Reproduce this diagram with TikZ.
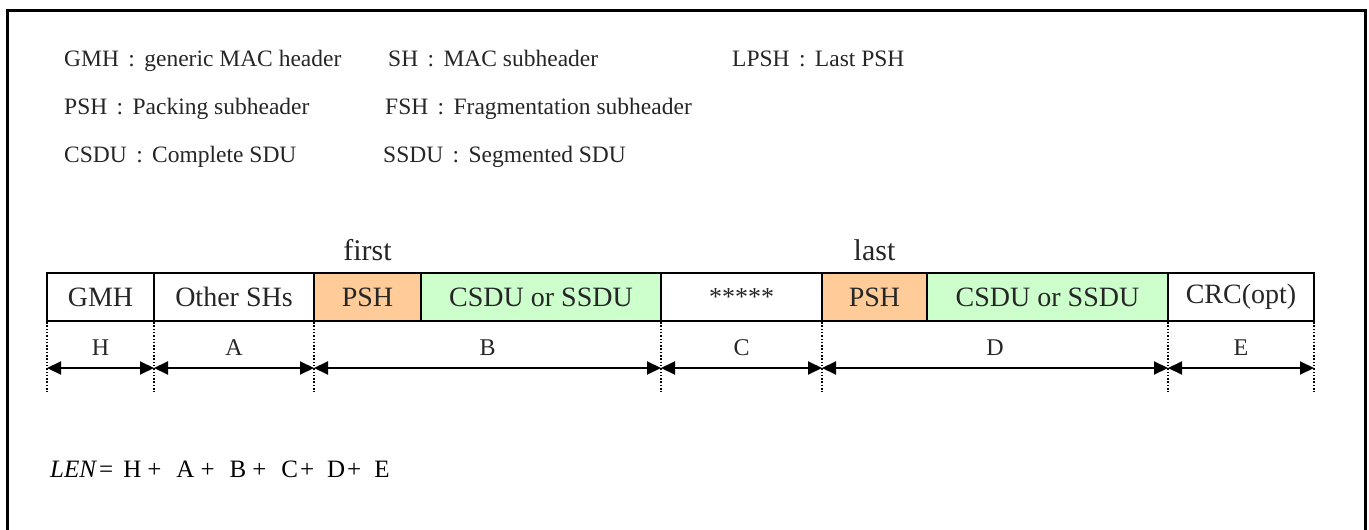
\documentclass[tikz,border=0pt]{standalone}
\usepackage{fontspec}
\setmainfont{Liberation Serif}
\usetikzlibrary{arrows.meta}
\definecolor{pshc}{HTML}{FFCC99}
\definecolor{sduc}{HTML}{CCFFCC}
\tikzset{
  fld/.style={draw=black, line width=2.5pt, minimum height=48pt, inner sep=0pt, anchor=center,
     font=\fontsize{28}{30}\selectfont, text=black!85},
  leg/.style={anchor=base west, inner sep=0pt, font=\fontsize{23.5}{26}\selectfont, text=black!85},
  dots/.style={line width=1.5pt, dash pattern=on 1.5pt off 1.8pt},
  dim/.style={line width=2pt, {Triangle[length=14pt,width=13pt]}-{Triangle[length=14pt,width=13pt]}},
  dimlbl/.style={anchor=center, inner sep=0pt, font=\fontsize{24}{28}\selectfont, text=black!85},
  toplbl/.style={anchor=base, inner sep=0pt, font=\fontsize{30}{32}\selectfont, text=black!85},
  frame/.style={line width=3pt}
}
\newcommand{\cl}{\hspace{0.4em}:\hspace{0.4em}}
\begin{document}
\begin{tikzpicture}[x=1pt,y=-1pt]
\useasboundingbox (0,0) rectangle (1369,530);
% frame
\coordinate (fbl) at (7,531);
\coordinate (ftl) at (7,10);
\coordinate (ftr) at (1365,10);
\coordinate (fbr) at (1365,531);
\draw[frame] (fbl) -- (ftl) -- (ftr) -- (fbr);
% legend
\node[leg] (l1) at (64,66) {GMH\cl generic MAC header};
\node[leg] (l2) at (388,66) {SH\cl MAC subheader};
\node[leg] (l3) at (732,66) {LPSH\cl Last PSH};
\node[leg] (l4) at (64,114) {PSH\cl Packing subheader};
\node[leg] (l5) at (385,114) {FSH\cl Fragmentation subheader};
\node[leg] (l6) at (64,162) {CSDU\cl Complete SDU};
\node[leg] (l7) at (383,162) {SSDU\cl Segmented SDU};
% fields
\node[fld, minimum width=107pt] (gmh) at (100.5,297) {GMH};
\node[fld, minimum width=160pt] (oth) at (234,297) {Other SHs};
\node[fld, fill=pshc, minimum width=107pt] (psh1) at (367.5,297) {PSH};
\node[fld, fill=sduc, minimum width=240pt] (sdu1) at (541,297) {CSDU or SSDU};
\node[fld, minimum width=161pt] (star) at (741.5,297) {\fontsize{26}{28}\selectfont *****};
\node[fld, fill=pshc, minimum width=105pt] (psh2) at (874.5,297) {PSH};
\node[fld, fill=sduc, minimum width=241pt] (sdu2) at (1047.5,297) {CSDU or SSDU};
\node[fld, minimum width=146pt] (crc) at (1241,297) {CRC(opt)};
\node[toplbl] (first) at (367.5,260) {first};
\node[toplbl] (last) at (874.5,260) {last};
% dotted extension lines
\foreach \n/\x in {0/47,1/154,2/314,3/661,4/822,5/1168,6/1314}{
  \coordinate (t\n) at (\x,322);
  \coordinate (b\n) at (\x,392);
  \coordinate (a\n) at (\x,368);
  \draw[dots] (t\n) -- (b\n);
}
% dimension arrows
\draw[dim] (a0) -- (a1);
\draw[dim] (a1) -- (a2);
\draw[dim] (a2) -- (a3);
\draw[dim] (a3) -- (a4);
\draw[dim] (a4) -- (a5);
\draw[dim] (a5) -- (a6);
\node[dimlbl] (lh) at (100.5,348) {H};
\node[dimlbl] (la) at (234,348) {A};
\node[dimlbl] (lb) at (487.5,348) {B};
\node[dimlbl] (lc) at (741.5,348) {C};
\node[dimlbl] (ld) at (995,348) {D};
\node[dimlbl] (le) at (1241,348) {E};
% formula
\node[anchor=base west, inner sep=0pt, font=\fontsize{25}{27}\selectfont] (len) at (50,477)
  {\textit{LEN}\hspace{2pt}=\hspace{10pt}H\hspace{6pt}+\hspace{15pt}A\hspace{6pt}+\hspace{15pt}B\hspace{6pt}+\hspace{15pt}C\hspace{2pt}+\hspace{13pt}D\hspace{2pt}+\hspace{13pt}E};
\end{tikzpicture}
\end{document}
